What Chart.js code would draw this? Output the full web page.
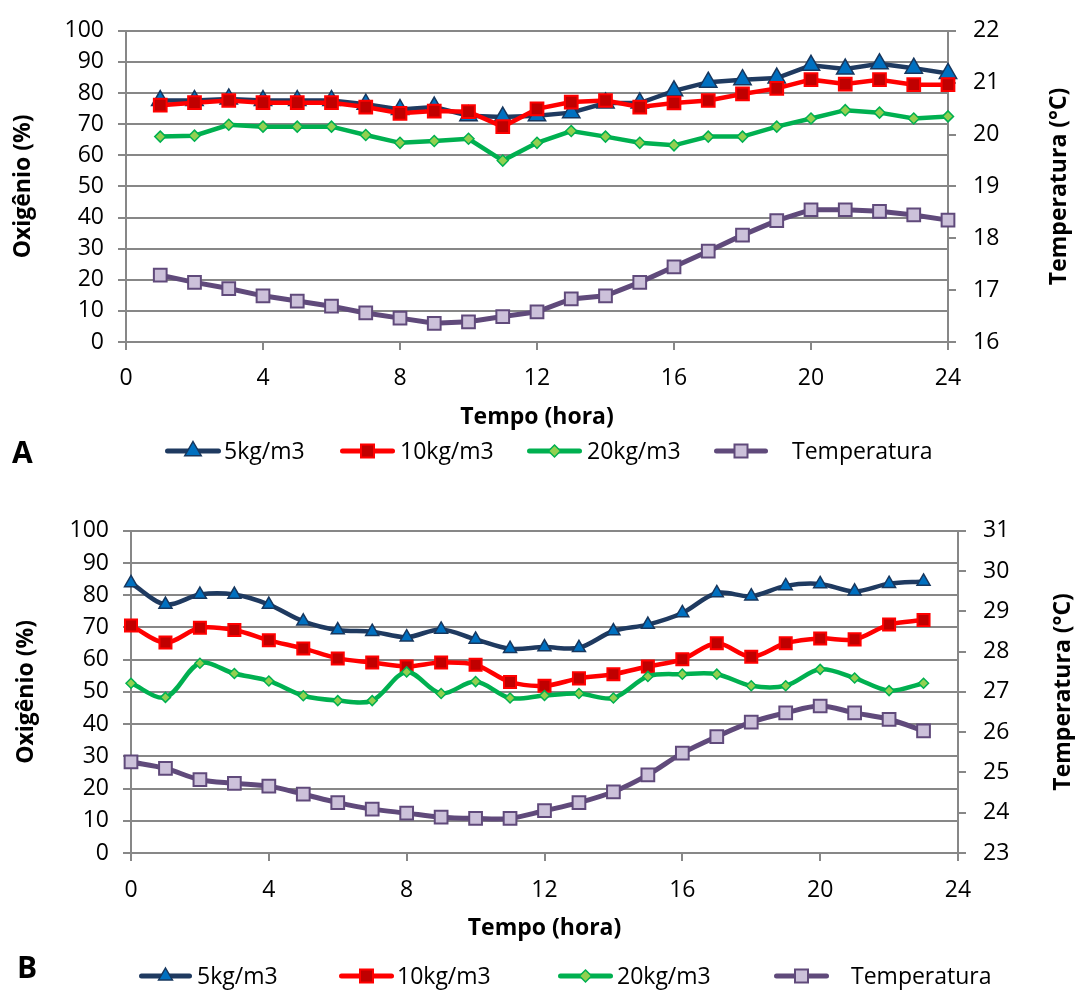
<!DOCTYPE html>
<html><head><meta charset="utf-8">
<script src="https://cdn.jsdelivr.net/npm/chart.js@4.4.1/dist/chart.umd.min.js"></script>
<style>
body{margin:0;background:#fff;}
#wrap{position:relative;width:1075px;height:992px;overflow:hidden;font-family:'Open Sans',sans-serif;color:#000;background:#fff}
canvas{position:absolute;left:0}
.lgt{position:absolute;font-size:23px;line-height:30px;white-space:pre}
.lgs{position:absolute;overflow:visible}
.fig{position:absolute;font-weight:bold;font-size:30px;line-height:41px}
</style></head><body>
<div id="wrap">
<canvas id="cA" width="1075" height="435" style="top:0px"></canvas>
<canvas id="cB" width="1075" height="450" style="top:500px"></canvas>
<div class="fig" style="left:12px;top:431px">A</div>
<div class="fig" style="left:17px;top:946px">B</div>
</div>
<script>
// ---------- data ----------
const seriesNames = ['5kg/m3', '10kg/m3', '20kg/m3', 'Temperatura'];
const xTitle = 'Tempo (hora)';
const yTitle = 'Oxigênio (%)';
const y1Title = 'Temperatura (°C)';

// Chart A
const hoursA = [1,2,3,4,5,6,7,8,9,10,11,12,13,14,15,16,17,18,19,20,21,22,23,24];
const a5  = [77.6,77.6,78.1,77.6,77.6,77.6,76.4,74.7,75.5,72.7,72.3,72.7,73.7,76.8,76.8,80.7,83.5,84.3,84.8,88.9,87.7,89.4,88.0,86.3];
const a10 = [76.1,76.9,77.6,76.9,76.9,76.9,75.5,73.5,74.2,74.0,69.2,74.9,77.1,77.6,75.5,76.8,77.6,79.7,81.5,84.3,82.9,84.3,82.7,82.7];
const a20 = [66.0,66.3,69.8,69.2,69.2,69.2,66.5,64.0,64.6,65.3,58.3,64.0,67.8,66.0,64.0,63.2,66.0,66.0,69.2,71.8,74.5,73.7,71.8,72.5];
const aTemp = [17.29,17.15,17.03,16.89,16.79,16.69,16.56,16.46,16.36,16.39,16.49,16.58,16.83,16.89,17.15,17.45,17.75,18.06,18.34,18.55,18.55,18.52,18.45,18.35];

// Chart B
const hoursB = [0,1,2,3,4,5,6,7,8,9,10,11,12,13,14,15,16,17,18,19,20,21,22,23];
const b5  = [83.8,77.1,80.2,80.2,77.1,71.9,69.2,68.7,67.0,69.4,66.3,63.4,63.9,63.7,68.9,70.9,74.5,80.7,79.7,82.9,83.5,81.2,83.6,84.3];
const b10 = [70.6,65.3,69.9,69.2,66.0,63.5,60.4,59.1,57.9,59.1,58.4,53.1,51.9,54.2,55.5,57.9,60.1,65.1,60.9,65.1,66.6,66.3,70.9,72.3];
const b20 = [52.7,48.3,58.9,55.7,53.4,48.8,47.3,47.3,56.2,49.5,53.2,48.1,48.9,49.5,48.1,54.8,55.5,55.5,51.9,51.9,57.0,54.3,50.4,52.7];
const bTemp = [25.26,25.10,24.82,24.73,24.66,24.46,24.25,24.09,23.99,23.89,23.86,23.86,24.05,24.25,24.52,24.94,25.48,25.89,26.25,26.48,26.65,26.48,26.32,26.03];

// axis ranges / ticks
const xRange = [0, 24], xStep = 4;
const yRange = [0, 100], yStep = 10;
const y1RangeA = [16, 22], y1RangeB = [23, 31], y1Step = 1;

// ---------- styles ----------
const GRAY = '#878787';
const FONT = "'Open Sans', sans-serif";
const styles = [
  {line:'#1F3A60', fill:'#0070C0', border:'#17375E', shape:'triangle', bw:1.5},
  {line:'#FF0000', fill:'#C00000', border:'#FF0000', shape:'rect', bw:2},
  {line:'#00B050', fill:'#92D050', border:'#00B050', shape:'rectRot', bw:1.5},
  {line:'#604A7B', fill:'#CCC1DA', border:'#604A7B', shape:'rect', bw:2}
];

const rightTitle = {
  id: 'rightTitle',
  afterDraw(chart, args, opts) {
    const {ctx, chartArea} = chart;
    ctx.save();
    ctx.font = 'bold 23px ' + FONT;
    ctx.fillStyle = '#000';
    ctx.textAlign = 'center';
    ctx.textBaseline = 'middle';
    ctx.translate(opts.x, (chartArea.top + chartArea.bottom) / 2);
    ctx.rotate(-Math.PI / 2);
    ctx.fillText(opts.text, 0, 0);
    ctx.restore();
  }
};

function xy(xs, ys) { return xs.map((x, i) => ({x: x, y: ys[i]})); }

function build(id, g) {
  const series = [g.s5, g.s10, g.s20, g.temp];
  const datasets = series.map((s, i) => ({
    label: seriesNames[i],
    data: xy(g.hours, s),
    yAxisID: i === 3 ? 'y1' : 'y',
    borderColor: styles[i].line,
    borderWidth: i === 3 ? 5 : 4.5,
    pointStyle: styles[i].shape,
    pointRadius: g.radii[i],
    pointBackgroundColor: styles[i].fill,
    pointBorderColor: styles[i].border,
    pointBorderWidth: styles[i].bw,
    tension: g.tension,
    clip: false,
    order: 4 - i,
    fill: false
  }));
  const tickFont = {family: FONT, size: 23};
  const titleFont = {family: FONT, size: 23, weight: 'bold'};
  return new Chart(document.getElementById(id), {
    type: 'line',
    data: {datasets},
    options: {
      responsive: false, animation: false, devicePixelRatio: 1,
      layout: {padding: {top: g.padTop, left: 0, right: 0, bottom: 0}},
      plugins: {legend: {display: false}, tooltip: {enabled: false}, rightTitle: {x: g.rtX, text: y1Title}},
      scales: {
        x: {
          type: 'linear', min: xRange[0], max: xRange[1],
          ticks: {stepSize: xStep, color: '#000', font: tickFont, padding: g.xTickPad},
          grid: {drawOnChartArea: false, color: GRAY, lineWidth: 2, tickLength: 8},
          border: {color: GRAY, width: 2},
          title: {display: true, text: xTitle, color: '#000', font: titleFont, padding: {top: 0, bottom: g.xtPad}},
          afterFit(s) { s.height = g.xH; }
        },
        y: {
          position: 'left', min: yRange[0], max: yRange[1],
          ticks: {stepSize: yStep, color: '#000', font: tickFont, padding: 14},
          grid: {color: GRAY, lineWidth: 2, tickLength: 8},
          border: {color: GRAY, width: 2},
          title: {display: true, text: yTitle, color: '#000', font: titleFont, padding: {top: g.ytPad, bottom: 0}},
          afterFit(s) { s.width = g.left; }
        },
        y1: {
          position: 'right', min: g.y1Range[0], max: g.y1Range[1],
          ticks: {stepSize: y1Step, color: '#000', font: tickFont, padding: 17},
          grid: {drawOnChartArea: false, color: GRAY, lineWidth: 2, tickLength: 8},
          border: {color: GRAY, width: 2},
          afterFit(s) { s.width = 1075 - g.right; }
        }
      }
    },
    plugins: [rightTitle]
  });
}

build('cA', {hours: hoursA, s5: a5, s10: a10, s20: a20, temp: aTemp, y1Range: y1RangeA,
  radii: [10, 9, 5.5, 9], tension: 0, padTop: 17, left: 126, right: 948, xH: 93, xtPad: 4, xTickPad: 15, ytPad: 10, rtX: 1059});
build('cB', {hours: hoursB, s5: b5, s10: b10, s20: b20, temp: bTemp, y1Range: y1RangeB,
  radii: [7.5, 8.5, 5, 9], tension: 0.33, padTop: 27, left: 131, right: 958, xH: 97, xtPad: 8, xTickPad: 16, ytPad: 13, rtX: 1063});

// ---------- legends (HTML) ----------
function markerSvg(i, cx, cy, big) {
  const s = styles[i];
  if (s.shape === 'triangle') {
    const r = big ? 9.5 : 8;
    const pts = [[cx, cy - r], [cx + r * 0.866, cy + r / 2], [cx - r * 0.866, cy + r / 2]].map(p => p.join(',')).join(' ');
    return `<polygon points="${pts}" fill="${s.fill}" stroke="${s.border}" stroke-width="1.5"/>`;
  }
  if (s.shape === 'rectRot') {
    const r = 6;
    const pts = [[cx, cy - r], [cx + r, cy], [cx, cy + r], [cx - r, cy]].map(p => p.join(',')).join(' ');
    return `<polygon points="${pts}" fill="${s.fill}" stroke="${s.border}" stroke-width="1.5"/>`;
  }
  const h = 6.5;
  return `<rect x="${cx - h}" y="${cy - h}" width="${2 * h}" height="${2 * h}" fill="${s.fill}" stroke="${s.border}" stroke-width="2"/>`;
}
function legend(yc, lines, texts, big) {
  const wrap = document.getElementById('wrap');
  lines.forEach((ln, i) => {
    const w = ln[1] - ln[0];
    const svg = document.createElementNS('http://www.w3.org/2000/svg', 'svg');
    svg.setAttribute('class', 'lgs');
    svg.setAttribute('width', w);
    svg.setAttribute('height', 24);
    svg.style.left = ln[0] + 'px';
    svg.style.top = (yc - 12) + 'px';
    svg.innerHTML = `<line x1="2.5" y1="12" x2="${w - 2.5}" y2="12" stroke="${styles[i].line}" stroke-width="5" stroke-linecap="round"/>` + markerSvg(i, w / 2, 12, big);
    wrap.appendChild(svg);
    const t = document.createElement('div');
    t.className = 'lgt';
    t.textContent = seriesNames[i];
    t.style.left = texts[i] + 'px';
    t.style.top = (yc - 16) + 'px';
    wrap.appendChild(t);
  });
}
legend(451, [[165, 221], [340, 395], [527, 582], [714, 768]], [224, 400, 587, 792], true);
legend(976, [[139, 192], [339, 394], [558, 613], [774, 829]], [197, 397, 617, 851], false);
</script>
</body></html>
